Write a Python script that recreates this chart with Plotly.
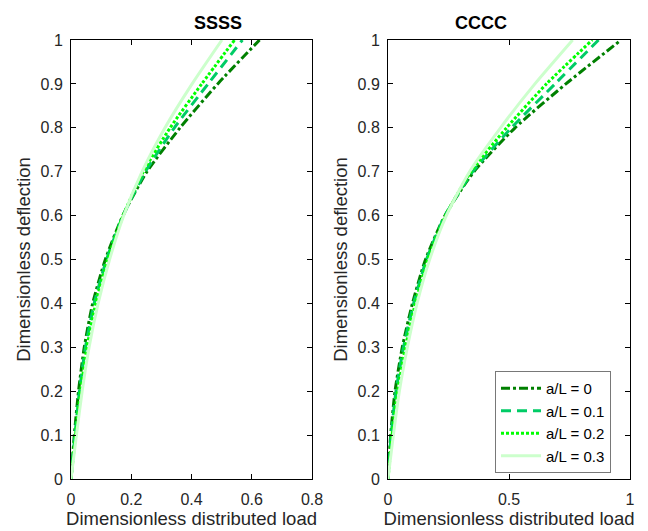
import plotly.graph_objects as go
from plotly.subplots import make_subplots

deflection = [0, 0.1, 0.2, 0.3, 0.4, 0.5, 0.6, 0.7, 0.8, 0.9, 1.0]

# SSSS: dimensionless distributed load for each a/L
ssss_0 = [0, 0.011, 0.025, 0.044, 0.072, 0.114, 0.172, 0.252, 0.362, 0.487, 0.626]
ssss_1 = [0, 0.013, 0.028, 0.048, 0.077, 0.118, 0.173, 0.247, 0.343, 0.455, 0.569]
ssss_2 = [0, 0.015, 0.032, 0.053, 0.082, 0.122, 0.173, 0.240, 0.329, 0.434, 0.543]
ssss_3 = [0, 0.018, 0.037, 0.060, 0.090, 0.128, 0.175, 0.236, 0.312, 0.402, 0.501]

# CCCC
cccc_0 = [0, 0.011, 0.029, 0.059, 0.101, 0.155, 0.235, 0.355, 0.525, 0.735, 0.963]
cccc_1 = [0, 0.013, 0.033, 0.064, 0.106, 0.159, 0.236, 0.350, 0.510, 0.690, 0.870]
cccc_2 = [0, 0.017, 0.040, 0.072, 0.113, 0.165, 0.238, 0.343, 0.490, 0.655, 0.844]
cccc_3 = [0, 0.022, 0.047, 0.080, 0.120, 0.172, 0.241, 0.337, 0.465, 0.607, 0.763]

labels = ["a/L = 0", "a/L = 0.1", "a/L = 0.2", "a/L = 0.3"]
colors = ["rgb(0,128,0)", "rgb(0,204,102)", "rgb(0,255,0)", "rgb(204,255,204)"]
dashes = ["9px,3px,3px,3px", "10px,6px", "3px,2px", "solid"]

fig = make_subplots(rows=1, cols=2)

for col, series in [(1, [ssss_0, ssss_1, ssss_2, ssss_3]), (2, [cccc_0, cccc_1, cccc_2, cccc_3])]:
    for i, xs in enumerate(series):
        fig.add_trace(go.Scatter(
            x=xs, y=deflection, mode="lines", name=labels[i],
            line=dict(color=colors[i], width=3, dash=dashes[i], shape="spline", smoothing=0.6),
            showlegend=(col == 2),
        ), row=1, col=col)

FONT = "Liberation Sans, Arial"
axis_common = dict(showline=True, linecolor="black", linewidth=1, mirror="ticks",
                   ticks="inside", ticklen=5, tickcolor="black", showgrid=False, zeroline=False,
                   automargin=False,
                   tickfont=dict(family=FONT, size=16, color="rgb(38,38,38)"))

fig.update_xaxes(**axis_common, ticklabelstandoff=6)
fig.update_yaxes(**axis_common, ticklabelstandoff=4)

ytickvals = [0, 0.1, 0.2, 0.3, 0.4, 0.5, 0.6, 0.7, 0.8, 0.9, 1]
ytext = ["0", "0.1", "0.2", "0.3", "0.4", "0.5", "0.6", "0.7", "0.8", "0.9", "1"]
title_font = dict(family=FONT, size=18.5, color="rgb(38,38,38)")

L, R, T, B = 71, 18, 40, 52
PW = 648 - L - R
PH = 531 - T - B

fig.update_layout(
    width=648, height=531, margin=dict(l=L, r=R, t=T, b=B, autoexpand=False),
    plot_bgcolor="white", paper_bgcolor="white",
    xaxis=dict(domain=[0, (312-L)/PW], range=[0, 0.8],
               tickvals=[0, 0.2, 0.4, 0.6, 0.8], ticktext=["0", "0.2", "0.4", "0.6", "0.8"],
               title=dict(text="Dimensionless distributed load", font=title_font, standoff=4)),
    xaxis2=dict(domain=[(388-L)/PW, 1], range=[0, 1],
                tickvals=[0, 0.5, 1], ticktext=["0", "0.5", "1"],
                title=dict(text="Dimensionless distributed load", font=title_font, standoff=4)),
    yaxis=dict(domain=[0, 1], range=[0, 1], tickvals=ytickvals, ticktext=ytext,
               title=dict(text="Dimensionless deflection", font=title_font, standoff=5)),
    yaxis2=dict(domain=[0, 1], range=[0, 1], tickvals=ytickvals, ticktext=ytext,
                title=dict(text="Dimensionless deflection", font=title_font, standoff=5)),
    legend=dict(x=611/648, y=1-371/531, xref="container", yref="container",
                xanchor="right", yanchor="top",
                bgcolor="white", bordercolor="rgb(120,120,120)", borderwidth=1,
                font=dict(family=FONT, size=15, color="black"),
                tracegroupgap=0, itemwidth=40),
    annotations=[
        dict(text="<b>SSSS</b>", x=((71+312)/2 - L)/PW, y=(531 - B - 23)/PH,
             xref="paper", yref="paper", yanchor="middle", showarrow=False,
             font=dict(family=FONT, size=18, color="black")),
        dict(text="<b>CCCC</b>", x=((388+630)/2 - L)/PW, y=(531 - B - 23)/PH,
             xref="paper", yref="paper", yanchor="middle", showarrow=False,
             font=dict(family=FONT, size=18, color="black")),
    ],
)

fig.write_html("out.html")
